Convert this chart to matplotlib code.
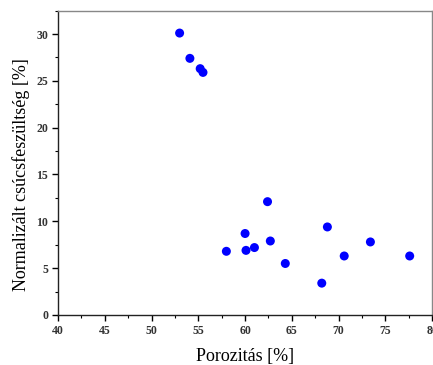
import matplotlib
matplotlib.use('Agg')
import matplotlib.pyplot as plt
from matplotlib.ticker import MultipleLocator

# Porozitás [%]
porosity = [53.0, 54.1, 55.2, 55.5, 62.4, 60.0, 68.8, 62.7, 73.4,
            58.0, 60.1, 61.0, 70.6, 77.6, 64.3, 68.2]
# Normalizált csúcsfeszültség [%]
peak_stress = [30.1, 27.4, 26.3, 25.9, 12.1, 8.7, 9.4, 7.9, 7.8,
               6.8, 6.9, 7.2, 6.3, 6.3, 5.5, 3.4]

plt.rcParams['font.family'] = ['Liberation Serif', 'DejaVu Serif']

fig = plt.figure(figsize=(4.33, 3.65), dpi=100)
ax = fig.add_axes([0.134, 0.137, 0.864, 0.834])

ax.scatter(porosity, peak_stress, s=42, color='#0000ff', edgecolors='none', zorder=3)

ax.set_xlim(40, 80)
ax.set_ylim(0, 32.5)
ax.xaxis.set_major_locator(MultipleLocator(5))
ax.xaxis.set_minor_locator(MultipleLocator(2.5))
ax.yaxis.set_major_locator(MultipleLocator(5))
ax.yaxis.set_minor_locator(MultipleLocator(2.5))

ax.tick_params(which='major', direction='out', length=4, width=1, labelsize=8.5,
               labelcolor='#333333', pad=3)
ax.tick_params(which='minor', direction='out', length=2.5, width=0.8)
for lbl in ax.get_xticklabels() + ax.get_yticklabels():
    lbl.set_fontweight('bold')

for side in ['left', 'bottom']:
    ax.spines[side].set_color('#222222')
    ax.spines[side].set_linewidth(1.0)
for side in ['top', 'right']:
    ax.spines[side].set_color('#888888')
    ax.spines[side].set_linewidth(1.0)

ax.set_xlabel('Porozitás [%]', fontsize=13, labelpad=8)
ax.set_ylabel('Normalizált csúcsfeszültség [%]', fontsize=13)
ax.yaxis.set_label_coords(-0.076, 0.46)

fig.savefig('out.png', dpi=100)
